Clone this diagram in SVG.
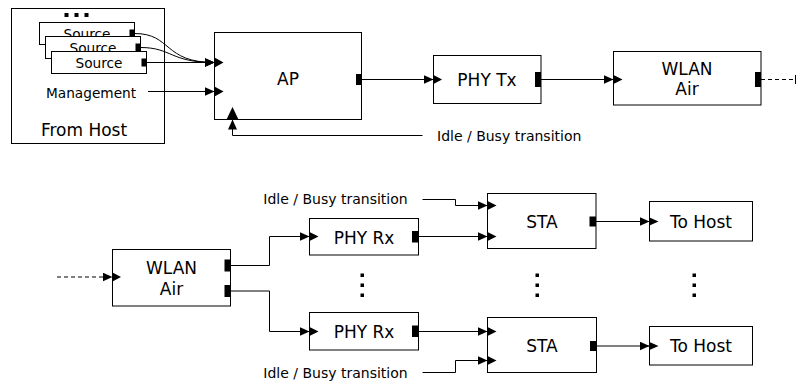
<svg xmlns="http://www.w3.org/2000/svg" width="797" height="383" viewBox="0 0 797 383">
<style>
.box{fill:#fff;stroke:#000;stroke-width:1}
.port{fill:#000;stroke:none}
.in{fill:#000;stroke:none}
.lbl{font-family:"DejaVu Sans",Verdana,sans-serif;font-size:17px;fill:#000;text-anchor:middle}
.sm{font-family:"DejaVu Sans",Verdana,sans-serif;font-size:13.7px;fill:#000}
.wire{fill:none;stroke:#000;stroke-width:1;marker-end:url(#ah)}
.plain{fill:none;stroke:#000;stroke-width:1}
.dash{stroke-dasharray:4 3}
.dot{fill:#000}
</style>
<defs>
<marker id="ah" markerUnits="userSpaceOnUse" markerWidth="11" markerHeight="10" refX="10" refY="4.5" orient="auto" viewBox="0 0 11 10">
<path d="M0,0 L10,4.5 L0,9 z" fill="#000"/>
</marker>
</defs>

<g id="from-host">
<rect class="box" x="11.5" y="8.5" width="153" height="135"/>
<rect class="dot" x="64.5" y="13" width="4" height="4"/>
<rect class="dot" x="74.5" y="13" width="4" height="4"/>
<rect class="dot" x="84.5" y="13" width="4" height="4"/>
<text class="sm" x="46" y="97.5">Management</text>
<text class="lbl" x="84" y="136">From Host</text>
</g>
<g id="source1">
<rect class="box" x="39.5" y="22.5" width="95" height="22"/>
<text class="sm" x="87" y="38.5" text-anchor="middle">Source</text>
<rect class="port" x="129.5" y="29.5" width="5" height="8"/>
</g>
<g id="source2">
<rect class="box" x="45.5" y="36.5" width="95" height="22"/>
<text class="sm" x="93" y="52.5" text-anchor="middle">Source</text>
<rect class="port" x="135.5" y="43.5" width="5" height="8"/>
</g>
<g id="source3">
<rect class="box" x="51.5" y="51.5" width="95" height="22"/>
<text class="sm" x="99" y="67.5" text-anchor="middle">Source</text>
<rect class="port" x="141.5" y="58.5" width="5" height="8"/>
</g>

<g id="ap">
<rect class="box" x="214.5" y="32.5" width="147" height="87"/>
<text class="lbl" x="288" y="85">AP</text>
<polygon class="in" points="214.5,57.5 223.5,62.5 214.5,67.5"/>
<polygon class="in" points="214.5,86.5 223.5,91.5 214.5,96.5"/>
<polygon class="in" points="226.5,119.5 232.5,107 238.5,119.5"/>
<rect class="port" x="356" y="74" width="6" height="11"/>
</g>

<g id="phy-tx">
<rect class="box" x="433.5" y="55.5" width="107.5" height="48"/>
<text class="lbl" x="487" y="86">PHY Tx</text>
<polygon class="in" points="433.5,75 442,79.5 433.5,84"/>
<rect class="port" x="535" y="72" width="6" height="15"/>
</g>

<g id="wlan-air-tx">
<rect class="box" x="613.5" y="51.5" width="147.5" height="53.5"/>
<text class="lbl" x="687" y="75">WLAN</text>
<text class="lbl" x="687" y="95">Air</text>
<polygon class="in" points="613.5,75 622.5,79.5 613.5,84"/>
<rect class="port" x="755" y="72" width="6" height="15"/>
</g>

<g id="wlan-air-rx">
<rect class="box" x="112.5" y="249.5" width="118" height="56.5"/>
<text class="lbl" x="171.5" y="274">WLAN</text>
<text class="lbl" x="171.5" y="295">Air</text>
<polygon class="in" points="112.5,272.5 121,277 112.5,281.5"/>
<rect class="port" x="224.5" y="259.5" width="6" height="12"/>
<rect class="port" x="224.5" y="285" width="6" height="12"/>
</g>

<g id="phy-rx1">
<rect class="box" x="309.5" y="218.5" width="109" height="36.5"/>
<text class="lbl" x="364" y="243.5">PHY Rx</text>
<polygon class="in" points="309.5,232 318.5,236.5 309.5,241"/>
<rect class="port" x="412" y="231" width="6.5" height="11.5"/>
</g>
<g id="phy-rx2">
<rect class="box" x="309.5" y="312.5" width="109" height="37.5"/>
<text class="lbl" x="364" y="338">PHY Rx</text>
<polygon class="in" points="309.5,327 318.5,331.5 309.5,336"/>
<rect class="port" x="412" y="325.5" width="6.5" height="11.5"/>
</g>

<g id="sta1">
<rect class="box" x="487.5" y="193.5" width="108.5" height="55"/>
<text class="lbl" x="542" y="228">STA</text>
<polygon class="in" points="487.5,201 496.5,205.5 487.5,210"/>
<polygon class="in" points="487.5,232 496.5,236.5 487.5,241"/>
<rect class="port" x="589.5" y="216.5" width="6.5" height="10"/>
</g>
<g id="sta2">
<rect class="box" x="487.5" y="317.5" width="109" height="55"/>
<text class="lbl" x="542" y="352">STA</text>
<polygon class="in" points="487.5,327 496.5,331.5 487.5,336"/>
<polygon class="in" points="487.5,356 496.5,360.5 487.5,365"/>
<rect class="port" x="590" y="341" width="6.5" height="10"/>
</g>

<g id="to-host1">
<rect class="box" x="649.5" y="201.5" width="103" height="39.5"/>
<text class="lbl" x="701" y="228">To Host</text>
<polygon class="in" points="649.5,217.5 658.5,221.5 649.5,225.5"/>
</g>
<g id="to-host2">
<rect class="box" x="649.5" y="326.5" width="103" height="38.5"/>
<text class="lbl" x="701" y="352">To Host</text>
<polygon class="in" points="649.5,342 658.5,346 649.5,350"/>
</g>

<g id="labels">
<text class="sm" x="437" y="140.5" style="font-size:14px">Idle / Busy transition</text>
<text class="sm" x="263.3" y="204" style="font-size:14px">Idle / Busy transition</text>
<text class="sm" x="263.3" y="377.5" style="font-size:14px">Idle / Busy transition</text>
</g>

<g id="ellipses">
<rect class="dot" x="360.5" y="273.5" width="3.5" height="3.5"/>
<rect class="dot" x="360.5" y="283.5" width="3.5" height="3.5"/>
<rect class="dot" x="360.5" y="293.5" width="3.5" height="3.5"/>
<rect class="dot" x="535.5" y="273.5" width="3.5" height="3.5"/>
<rect class="dot" x="535.5" y="283.5" width="3.5" height="3.5"/>
<rect class="dot" x="535.5" y="293.5" width="3.5" height="3.5"/>
<rect class="dot" x="692.5" y="273.5" width="3.5" height="3.5"/>
<rect class="dot" x="692.5" y="283.5" width="3.5" height="3.5"/>
<rect class="dot" x="692.5" y="293.5" width="3.5" height="3.5"/>
</g>

<g id="connectors">
<path class="wire" d="M134.5,33.5 C172,33.5 163,62.5 214.5,62.5"/>
<path class="wire" d="M140.5,47.5 C172,47.5 170,62.5 214.5,62.5"/>
<path class="wire" d="M146.5,62.5 L214.5,62.5"/>
<path class="wire" d="M148,91.5 L214.5,91.5"/>
<path class="wire" d="M422.5,135.5 H232.5 V119.5"/>
<path class="wire" d="M362,79.5 H433.5"/>
<path class="wire" d="M541,79.5 H613.5"/>
<path class="plain dash" d="M761,79.5 H795"/>
<path class="plain" d="M795.5,75 V84"/>
<path class="wire dash" d="M57,277 H112.5"/>
<path class="wire" d="M230.5,265.5 H269.5 V236.5 H309.5"/>
<path class="wire" d="M230.5,291 H269.5 V331.5 H309.5"/>
<path class="wire" d="M422.5,199.5 H455.5 V205.5 H487.5"/>
<path class="wire" d="M418.5,236.5 H487.5"/>
<path class="wire" d="M418.5,331.5 H487.5"/>
<path class="wire" d="M422.5,372.5 H455.5 V360.5 H487.5"/>
<path class="wire" d="M596,221.5 H649.5"/>
<path class="wire" d="M596.5,346 H649.5"/>
</g>
</svg>
